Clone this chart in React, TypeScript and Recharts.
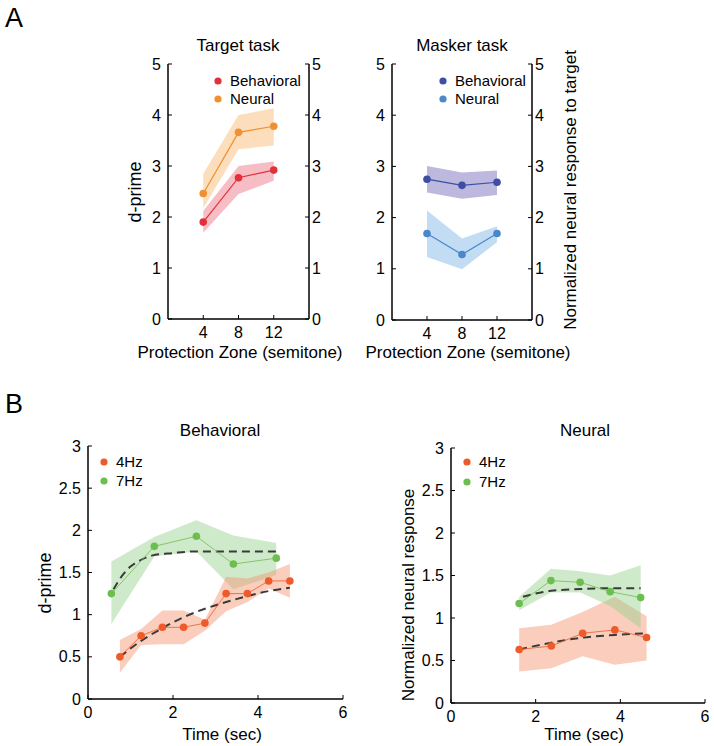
import React from 'react';
import { ComposedChart, Line, Area, XAxis, YAxis } from 'recharts';

// Panel A: protection zone (semitone)
const zones = [4, 8, 12];
const targetBehMean = [1.9, 2.77, 2.92];
const targetBehLo = [1.69, 2.45, 2.71];
const targetBehHi = [2.12, 3.0, 3.09];
const targetNeuMean = [2.46, 3.66, 3.78];
const targetNeuLo = [2.17, 3.33, 3.4];
const targetNeuHi = [2.85, 4.0, 4.13];
const maskerBehMean = [2.75, 2.63, 2.69];
const maskerBehLo = [2.49, 2.37, 2.44];
const maskerBehHi = [3.01, 2.88, 2.92];
const maskerNeuMean = [1.69, 1.28, 1.69];
const maskerNeuLo = [1.23, 0.99, 1.52];
const maskerNeuHi = [2.14, 1.59, 1.83];
const zoneTicks = [4, 8, 12];
const dprimeTicks = [0, 1, 2, 3, 4, 5];

// Panel B: time (sec)
const behTime4 = [0.75, 1.25, 1.75, 2.25, 2.75, 3.25, 3.75, 4.25, 4.75];
const beh4Mean = [0.5, 0.75, 0.85, 0.85, 0.9, 1.25, 1.25, 1.4, 1.4];
const beh4Lo = [0.31, 0.64, 0.65, 0.65, 0.81, 1.04, 1.15, 1.31, 1.2];
const beh4Hi = [0.7, 0.83, 1.05, 1.05, 0.94, 1.45, 1.43, 1.5, 1.6];
const behTime7 = [0.55, 1.56, 2.55, 3.42, 4.43];
const beh7Mean = [1.25, 1.81, 1.93, 1.6, 1.67];
const beh7Lo = [0.89, 1.69, 1.75, 1.3, 1.47];
const beh7Hi = [1.63, 1.92, 2.12, 1.94, 1.85];
const behFitTime4 = [0.75, 1.25, 1.75, 2.25, 2.75, 3.25, 3.75, 4.25, 4.75];
const behFit4 = [0.5, 0.69, 0.84, 0.97, 1.07, 1.15, 1.22, 1.28, 1.32];
const behFitTime7 = [0.6, 0.8, 1.0, 1.25, 1.5, 2.0, 2.5, 3.0, 3.5, 4.0, 4.43];
const behFit7 = [1.3, 1.46, 1.57, 1.65, 1.7, 1.73, 1.75, 1.75, 1.75, 1.75, 1.75];

const neuTime4 = [1.61, 2.37, 3.11, 3.87, 4.62];
const neu4Mean = [0.63, 0.67, 0.82, 0.86, 0.77];
const neu4Lo = [0.37, 0.41, 0.55, 0.45, 0.5];
const neu4Hi = [0.88, 0.92, 1.07, 1.25, 1.02];
const neuTime7 = [1.61, 2.36, 3.05, 3.76, 4.48];
const neu7Mean = [1.17, 1.44, 1.42, 1.31, 1.24];
const neu7Lo = [1.09, 1.3, 1.3, 1.14, 0.88];
const neu7Hi = [1.25, 1.58, 1.55, 1.5, 1.62];
const neuFitTime4 = [1.61, 2.37, 3.11, 3.87, 4.62];
const neuFit4 = [0.63, 0.71, 0.77, 0.8, 0.82];
const neuFitTime7 = [1.7, 2.36, 3.05, 3.76, 4.48];
const neuFit7 = [1.25, 1.32, 1.34, 1.35, 1.35];
const timeTicks = [0, 2, 4, 6];
const halfTicks = [0, 0.5, 1, 1.5, 2, 2.5, 3];

const FONT = '"Liberation Sans", Arial, sans-serif';

const zip = (xs: number[], m: number[], lo?: number[], hi?: number[]) =>
  xs.map((x, i) => ({
    x,
    m: m[i],
    band: lo && hi ? [lo[i], hi[i]] : undefined,
  }));

const LeftTick = (p: any) => (
  <g>
    <line x1={p.x + 7} x2={p.x + 11} y1={p.y} y2={p.y} stroke="#000" />
    <text x={p.x} y={p.y} dy="0.35em" textAnchor="end" fontSize={16} fontFamily={FONT} fill="#000">
      {p.payload.value}
    </text>
  </g>
);

const RightTick = (p: any) => (
  <g>
    <line x1={p.x - 3} x2={p.x - 7} y1={p.y} y2={p.y} stroke="#000" />
    <text x={p.x} y={p.y} dy="0.35em" textAnchor="start" fontSize={16} fontFamily={FONT} fill="#000">
      {p.payload.value}
    </text>
  </g>
);

const BottomTick = (p: any) => (
  <g>
    <line x1={p.x} x2={p.x} y1={p.y - 7} y2={p.y - 11} stroke="#000" />
    <text x={p.x} y={p.y} dy="0.75em" textAnchor="middle" fontSize={16} fontFamily={FONT} fill="#000">
      {p.payload.value}
    </text>
  </g>
);

interface Series {
  data: { x: number; m: number; band?: number[] }[];
  color: string;
  bandColor: string;
  width: number;
}

interface Fit {
  data: { x: number; m: number }[];
}

interface PanelProps {
  left: number;
  top: number;
  width: number;
  height: number;
  margin: { top: number; right: number; bottom: number; left: number };
  xDomain: [number, number];
  xTicks: number[];
  yDomain: [number, number];
  yTicks: number[];
  rightAxis?: boolean;
  series: Series[];
  fits?: Fit[];
}

const Panel: React.FC<PanelProps> = ({
  left,
  top,
  width,
  height,
  margin,
  xDomain,
  xTicks,
  yDomain,
  yTicks,
  rightAxis,
  series,
  fits = [],
}) => (
  <div style={{ position: 'absolute', left, top }}>
    <ComposedChart width={width} height={height} margin={margin}>
      <XAxis
        type="number"
        dataKey="x"
        domain={xDomain}
        ticks={xTicks}
        allowDuplicatedCategory={false}
        height={30}
        tickSize={0}
        tickMargin={7}
        tick={BottomTick}
        axisLine={{ stroke: '#000', strokeWidth: 1.5 }}
      />
      <YAxis
        yAxisId="l"
        type="number"
        domain={yDomain}
        ticks={yTicks}
        width={40}
        tickSize={0}
        tickMargin={7}
        tick={LeftTick}
        axisLine={{ stroke: '#000', strokeWidth: 1.5 }}
      />
      {rightAxis && (
        <YAxis
          yAxisId="r"
          orientation="right"
          type="number"
          domain={yDomain}
          ticks={yTicks}
          width={40}
          tickSize={0}
          tickMargin={3}
          tick={RightTick}
          axisLine={{ stroke: '#000', strokeWidth: 1.5 }}
        />
      )}
      {rightAxis && (
        // invisible series so the right-hand axis gets drawn
        <Line
          yAxisId="r"
          data={series[0].data}
          dataKey="m"
          stroke="none"
          dot={false}
          activeDot={false}
          isAnimationActive={false}
        />
      )}
      {series.map((s, i) => (
        <Area
          key={`band${i}`}
          yAxisId="l"
          data={s.data}
          dataKey="band"
          type="linear"
          stroke="none"
          fill={s.bandColor}
          fillOpacity={0.45}
          isAnimationActive={false}
          activeDot={false}
        />
      ))}
      {fits.map((f, i) => (
        <Line
          key={`fit${i}`}
          yAxisId="l"
          data={f.data}
          dataKey="m"
          type="monotone"
          stroke="#3a3a3a"
          strokeWidth={2}
          strokeDasharray="8 5"
          dot={false}
          activeDot={false}
          isAnimationActive={false}
        />
      ))}
      {series.map((s, i) => (
        <Line
          key={`line${i}`}
          yAxisId="l"
          data={s.data}
          dataKey="m"
          type="linear"
          stroke={s.color}
          strokeWidth={s.width}
          dot={{ r: 3.8, fill: s.color, stroke: s.color, strokeWidth: 0 }}
          activeDot={false}
          isAnimationActive={false}
        />
      ))}
    </ComposedChart>
  </div>
);

const txt = { fontFamily: FONT, fill: '#000' };

const LegendItem = ({ x, y, color, label }: { x: number; y: number; color: string; label: string }) => (
  <g>
    <circle cx={x} cy={y} r={3.6} fill={color} />
    <text x={x + 12} y={y} dy="0.35em" fontSize={15} {...txt}>
      {label}
    </text>
  </g>
);

export default function App() {
  const red = '#e2303b';
  const orange = '#f0902e';
  const navy = '#3d4ea3';
  const blue = '#4a88ca';
  const hz4 = '#ee5a2a';
  const hz7 = '#6cbf4e';

  return (
    <div style={{ position: 'absolute', left: 0, top: 0, width: 714, height: 746, background: '#fff' }}>
      <Panel
        left={100}
        top={30}
        width={260}
        height={340}
        margin={{ top: 34, right: 11, bottom: 21, left: 28 }}
        xDomain={[0, 16]}
        xTicks={zoneTicks}
        yDomain={[0, 5]}
        yTicks={dprimeTicks}
        rightAxis
        series={[
          { data: zip(zones, targetNeuMean, targetNeuLo, targetNeuHi), color: orange, bandColor: '#fbb66a', width: 1.2 },
          { data: zip(zones, targetBehMean, targetBehLo, targetBehHi), color: red, bandColor: '#ee6c7c', width: 1.2 },
        ]}
      />
      <Panel
        left={324}
        top={30}
        width={260}
        height={340}
        margin={{ top: 34, right: 12, bottom: 20, left: 28 }}
        xDomain={[0, 16]}
        xTicks={zoneTicks}
        yDomain={[0, 5]}
        yTicks={dprimeTicks}
        rightAxis
        series={[
          { data: zip(zones, maskerBehMean, maskerBehLo, maskerBehHi), color: navy, bandColor: '#6d62b4', width: 1.2 },
          { data: zip(zones, maskerNeuMean, maskerNeuLo, maskerNeuHi), color: blue, bandColor: '#78b2e6', width: 1.2 },
        ]}
      />
      <Panel
        left={20}
        top={410}
        width={340}
        height={330}
        margin={{ top: 36, right: 17, bottom: 11, left: 28 }}
        xDomain={[0, 6]}
        xTicks={timeTicks}
        yDomain={[0, 3]}
        yTicks={halfTicks}
        series={[
          { data: zip(behTime7, beh7Mean, beh7Lo, beh7Hi), color: hz7, bandColor: '#95d18a', width: 0.8 },
          { data: zip(behTime4, beh4Mean, beh4Lo, beh4Hi), color: hz4, bandColor: '#f5916c', width: 0.8 },
        ]}
        fits={[{ data: zip(behFitTime7, behFit7) }, { data: zip(behFitTime4, behFit4) }]}
      />
      <Panel
        left={383}
        top={410}
        width={330}
        height={330}
        margin={{ top: 38, right: 8, bottom: 7, left: 28 }}
        xDomain={[0, 6]}
        xTicks={timeTicks}
        yDomain={[0, 3]}
        yTicks={halfTicks}
        series={[
          { data: zip(neuTime4, neu4Mean, neu4Lo, neu4Hi), color: hz4, bandColor: '#f5916c', width: 0.8 },
          { data: zip(neuTime7, neu7Mean, neu7Lo, neu7Hi), color: hz7, bandColor: '#95d18a', width: 0.8 },
        ]}
        fits={[{ data: zip(neuFitTime7, neuFit7) }, { data: zip(neuFitTime4, neuFit4) }]}
      />
      <svg
        width={714}
        height={746}
        style={{ position: 'absolute', left: 0, top: 0, pointerEvents: 'none' }}
      >
        <text x={5} y={27} fontSize={27} {...txt}>A</text>
        <text x={5} y={413} fontSize={27} {...txt}>B</text>

        <text x={238} y={51} fontSize={17} textAnchor="middle" {...txt}>Target task</text>
        <text x={462} y={51} fontSize={17} textAnchor="middle" {...txt}>Masker task</text>
        <text x={240} y={358} fontSize={17} textAnchor="middle" {...txt}>Protection Zone (semitone)</text>
        <text x={468} y={358} fontSize={17} textAnchor="middle" {...txt}>Protection Zone (semitone)</text>
        <text transform="translate(141,192) rotate(-90)" fontSize={18} textAnchor="middle" {...txt}>d-prime</text>
        <text transform="translate(576,190) rotate(-90)" fontSize={17} textAnchor="middle" {...txt}>
          Normalized neural response to target
        </text>
        <LegendItem x={218} y={81} color={red} label="Behavioral" />
        <LegendItem x={218} y={99} color={orange} label="Neural" />
        <LegendItem x={443} y={81} color={navy} label="Behavioral" />
        <LegendItem x={443} y={99} color={blue} label="Neural" />

        <text x={220} y={436} fontSize={17} textAnchor="middle" {...txt}>Behavioral</text>
        <text x={585} y={436} fontSize={17} textAnchor="middle" {...txt}>Neural</text>
        <text x={222} y={740} fontSize={17} textAnchor="middle" {...txt}>Time (sec)</text>
        <text x={584} y={740} fontSize={17} textAnchor="middle" {...txt}>Time (sec)</text>
        <text transform="translate(51,583) rotate(-90)" fontSize={18} textAnchor="middle" {...txt}>d-prime</text>
        <text transform="translate(414,595) rotate(-90)" fontSize={17} textAnchor="middle" {...txt}>
          Normalized neural response
        </text>
        <LegendItem x={104} y={462} color={hz4} label="4Hz" />
        <LegendItem x={104} y={481} color={hz7} label="7Hz" />
        <LegendItem x={467} y={462} color={hz4} label="4Hz" />
        <LegendItem x={467} y={482} color={hz7} label="7Hz" />
      </svg>
    </div>
  );
}
